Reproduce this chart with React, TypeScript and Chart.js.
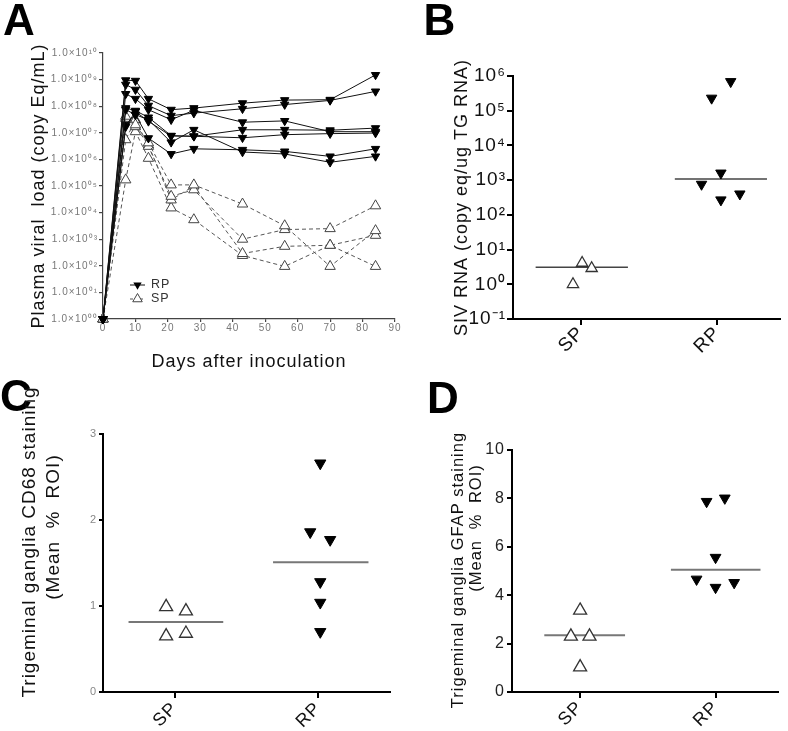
import React, { useEffect, useRef } from 'react';
import { Chart, registerables } from 'chart.js';

Chart.register(...registerables);

const FONT = "'Liberation Sans', Arial, Helvetica, sans-serif";

// ---------- Panel A : plasma viral load ----------
const DAYS = [0, 7, 10, 14, 21, 28, 43, 56, 70, 84];
const RP_ANIMAL_1 = [1, 9.5e8, 9.1e8, 1.9e8, 7.4e7, 8.5e7, 1.3e8, 1.7e8, 1.75e8, 1.5e9];
const RP_ANIMAL_2 = [1, 6.5e8, 4.2e8, 1.05e8, 4.4e7, 5.5e7, 8.0e7, 1.15e8, 1.65e8, 3.6e8];
const RP_ANIMAL_3 = [1, 2.9e8, 1.9e8, 7.4e7, 3.1e7, 7.0e7, 2.5e7, 2.8e7, 1.1e7, 1.1e7];
const RP_ANIMAL_4 = [1, 8.5e7, 6.8e7, 3.8e7, 7.8e6, 7.4e6, 1.3e7, 1.3e7, 1.25e7, 1.5e7];
const RP_ANIMAL_5 = [1, 7.4e7, 4.8e7, 3.1e7, 4.4e6, 1.3e7, 1.9e6, 1.6e6, 7.8e5, 1.3e6];
const RP_ANIMAL_6 = [1, 1.7e7, 6.3e7, 2.7e7, 7.6e6, 7.4e6, 6.5e6, 8.5e6, 9.3e6, 9.8e6];
const RP_ANIMAL_7 = [1, 2.0e7, 4.8e7, 6.3e6, 1.6e6, 2.5e6, 2.3e6, 2.0e6, 1.3e6, 2.5e6];
const SP_ANIMAL_1 = [1, 4.2e7, 2.0e7, 4.2e6, 1.1e5, 1.1e5, 2.1e4, 3.2e3, 95, 2.1e3];
const SP_ANIMAL_2 = [1, 5.5e6, 3.1e7, 3.1e6, 4.1e4, 7.2e4, 1.0e3, 2.3e3, 2.5e3, 1.8e4];
const SP_ANIMAL_3 = [1, 3.5e7, 1.7e7, 3.5e6, 3.0e4, 1.0e5, 290, 540, 590, 95];
const SP_ANIMAL_4 = [1, 1.7e5, 1.1e7, 1.1e6, 1.5e4, 5.4e3, 245, 95, 590, 1.4e3];
const RP_ANIMALS = [RP_ANIMAL_1, RP_ANIMAL_2, RP_ANIMAL_3, RP_ANIMAL_4, RP_ANIMAL_5, RP_ANIMAL_6, RP_ANIMAL_7];
const SP_ANIMALS = [SP_ANIMAL_1, SP_ANIMAL_2, SP_ANIMAL_3, SP_ANIMAL_4];
const A_Y_TICKS = [1, 1e1, 1e2, 1e3, 1e4, 1e5, 1e6, 1e7, 1e8, 1e9, 1e10];
const A_Y_LABELS = ['1.0×10⁰⁰', '1.0×10⁰¹', '1.0×10⁰²', '1.0×10⁰³', '1.0×10⁰⁴', '1.0×10⁰⁵', '1.0×10⁰⁶', '1.0×10⁰⁷', '1.0×10⁰⁸', '1.0×10⁰⁹', '1.0×10¹⁰'];
const A_LEGEND = ['RP', 'SP'];

// ---------- shared group labels ----------
const GROUPS = ['SP', 'RP'];
const GROUP_POS = [0.5, 1.5];

// ---------- Panel B : SIV RNA in TG ----------
const B_SP_VALUES = [1.0, 4.1, 2.9];
const B_SP_X = [0.44, 0.507, 0.577];
const B_RP_VALUES = [760, 1600, 270, 400, 2.3e5, 6.9e5];
const B_RP_X = [1.383, 1.525, 1.525, 1.664, 1.457, 1.597];
const B_MEDIANS = [3.1, 1080];
const B_MEDIAN_SPANS = [[0.166, 0.843], [1.187, 1.863]];
const B_Y_TICKS = [0.1, 1, 10, 100, 1e3, 1e4, 1e5, 1e6];
const B_Y_LABELS = ['10⁻¹', '10⁰', '10¹', '10²', '10³', '10⁴', '10⁵', '10⁶'];

// ---------- Panel C : CD68 ----------
const C_SP_VALUES = [0.99, 0.94, 0.65, 0.68];
const C_SP_X = [0.44, 0.578, 0.44, 0.578];
const C_RP_VALUES = [2.66, 1.86, 1.77, 1.28, 1.04, 0.70];
const C_RP_X = [1.514, 1.444, 1.583, 1.514, 1.514, 1.514];
const C_MEDIANS = [0.815, 1.51];
const C_MEDIAN_SPANS = [[0.178, 0.838], [1.185, 1.85]];
const C_Y_TICKS = [0, 1, 2, 3];

// ---------- Panel D : GFAP ----------
const D_SP_VALUES = [3.37, 2.3, 2.3, 1.03];
const D_SP_X = [0.502, 0.434, 0.571, 0.502];
const D_RP_VALUES = [7.87, 8.01, 5.56, 4.66, 4.32, 4.52];
const D_RP_X = [1.434, 1.568, 1.5, 1.36, 1.5, 1.637];
const D_MEDIANS = [2.34, 5.05];
const D_MEDIAN_SPANS = [[0.238, 0.833], [1.171, 1.831]];
const D_Y_TICKS = [0, 2, 4, 6, 8, 10];

// ---------- helpers ----------
const fixW = (w: number) => (s: any) => { s.width = w; };
const fixH = (h: number) => (s: any) => { s.height = h; };
const fixedTicks = (vals: number[]) => (s: any) => { s.ticks = vals.map((v) => ({ value: v })); };

function axisLook(color: string, width: number, tickLen: number) {
  return {
    grid: { display: true, drawOnChartArea: false, drawTicks: true, tickLength: tickLen, color, lineWidth: width },
    border: { display: true, color, width },
  };
}

function triPath(ctx: CanvasRenderingContext2D, x: number, y: number, r: number, down: boolean) {
  const s = down ? -1 : 1;
  ctx.beginPath();
  ctx.moveTo(x, y - s * r);
  ctx.lineTo(x + 0.866 * r, y + s * 0.5 * r);
  ctx.lineTo(x - 0.866 * r, y + s * 0.5 * r);
  ctx.closePath();
}

function drawRotated(ctx: any, t: any) {
  ctx.save();
  ctx.translate(t.x, t.y);
  ctx.rotate(-Math.PI / 2);
  ctx.font = `${t.size}px ${FONT}`;
  ctx.fillStyle = '#111';
  ctx.textAlign = 'center';
  ctx.textBaseline = 'middle';
  ctx.wordSpacing = t.wordSpacing || '0px';
  ctx.fillText(t.text, 0, 0);
  ctx.restore();
}

function decor(opt: any) {
  return {
    id: 'decor' + opt.letter,
    beforeDraw(chart: any) {
      chart.ctx.letterSpacing = opt.spacing || '1px';
    },
    afterDraw(chart: any) {
      const ctx = chart.ctx;
      ctx.save();
      ctx.font = `bold 44px ${FONT}`;
      ctx.fillStyle = '#000';
      ctx.textAlign = 'left';
      ctx.textBaseline = 'alphabetic';
      ctx.letterSpacing = '0px';
      ctx.fillText(opt.letter, opt.lx, opt.ly);
      ctx.letterSpacing = opt.spacing || '1px';
      (opt.titles || []).forEach((t: any) => drawRotated(ctx, t));
      if (opt.legend) opt.legend(chart);
      ctx.restore();
      ctx.letterSpacing = '0px';
    },
  };
}

function legendA(chart: any) {
  const ctx = chart.ctx;
  const { left, bottom } = chart.chartArea;
  const x0 = left + 27;
  const rows = [bottom - 34, bottom - 20];
  ctx.save();
  // RP
  ctx.strokeStyle = '#111';
  ctx.lineWidth = 1;
  ctx.beginPath();
  ctx.moveTo(x0, rows[0]);
  ctx.lineTo(x0 + 15, rows[0]);
  ctx.stroke();
  triPath(ctx, x0 + 7.5, rows[0], 4.8, true);
  ctx.fillStyle = '#000';
  ctx.fill();
  // SP
  ctx.strokeStyle = '#555';
  ctx.setLineDash([3, 2]);
  ctx.beginPath();
  ctx.moveTo(x0, rows[1]);
  ctx.lineTo(x0 + 15, rows[1]);
  ctx.stroke();
  ctx.setLineDash([]);
  triPath(ctx, x0 + 7.5, rows[1], 5.5, false);
  ctx.fillStyle = '#fff';
  ctx.fill();
  ctx.strokeStyle = '#444';
  ctx.lineWidth = 1;
  ctx.stroke();
  ctx.font = `12.5px ${FONT}`;
  ctx.fillStyle = '#333';
  ctx.textAlign = 'left';
  ctx.textBaseline = 'middle';
  ctx.fillText(A_LEGEND[0], x0 + 21, rows[0]);
  ctx.fillText(A_LEGEND[1], x0 + 21, rows[1]);
  ctx.restore();
}

function groupSets(spX: number[], spY: number[], rpX: number[], rpY: number[], medians: number[], spans: number[][], st: any) {
  return [
    {
      data: rpX.map((x, i) => ({ x, y: rpY[i] })),
      showLine: false, clip: false,
      pointStyle: 'triangle', pointRotation: 180, pointRadius: st.rpR,
      pointBackgroundColor: '#000', pointBorderColor: '#000', pointBorderWidth: 1,
    },
    {
      data: spX.map((x, i) => ({ x, y: spY[i] })),
      showLine: false, clip: false,
      pointStyle: 'triangle', pointRotation: 0, pointRadius: st.spR,
      pointBackgroundColor: '#fff', pointBorderColor: '#333', pointBorderWidth: 1.3,
    },
    ...medians.map((m, g) => ({
      data: [{ x: spans[g][0], y: m }, { x: spans[g][1], y: m }],
      showLine: true, pointRadius: 0, borderColor: st.med, borderWidth: st.medW, clip: false,
    })),
  ];
}

function groupX(minMax: number[], h: number, size: number, pad: number) {
  return {
    type: 'linear', min: minMax[0], max: minMax[1],
    afterFit: fixH(h),
    afterBuildTicks: fixedTicks(GROUP_POS),
    ticks: {
      callback: (_v: any, i: number) => GROUPS[i],
      autoSkip: false, minRotation: 45, maxRotation: 45, padding: pad,
      color: '#111', font: { family: FONT, size },
    },
    ...axisLook('#000', 2, 6),
  };
}

const BASE = {
  responsive: false,
  animation: false,
  events: [],
  plugins: { legend: { display: false }, tooltip: { enabled: false } },
};

function configA(): any {
  const rpSets = RP_ANIMALS.map((s) => ({
    data: DAYS.map((d, i) => ({ x: d, y: s[i] })),
    showLine: true, clip: false, borderColor: '#111', borderWidth: 1,
    pointStyle: 'triangle', pointRotation: 180, pointRadius: 4.8,
    pointBackgroundColor: '#000', pointBorderColor: '#000', pointBorderWidth: 1,
  }));
  const spSets = SP_ANIMALS.map((s) => ({
    data: DAYS.map((d, i) => ({ x: d, y: s[i] })),
    showLine: true, clip: false, borderColor: '#555', borderWidth: 1, borderDash: [4, 3],
    pointStyle: 'triangle', pointRotation: 0, pointRadius: 6,
    pointBackgroundColor: '#fff', pointBorderColor: '#444', pointBorderWidth: 1,
  }));
  return {
    type: 'scatter',
    data: { datasets: [...rpSets, ...spSets] },
    options: {
      ...BASE,
      layout: { padding: { left: 28, top: 53, right: 393, bottom: 358 } },
      scales: {
        x: {
          type: 'linear', min: 0, max: 90,
          afterFit: fixH(54),
          ticks: { stepSize: 10, color: '#777', font: { family: FONT, size: 10 }, padding: 0, maxRotation: 0 },
          ...axisLook('#444', 1.2, 3),
          title: { display: true, text: 'Days after inoculation', color: '#111', font: { family: FONT, size: 18 }, padding: 0 },
        },
        y: {
          type: 'logarithmic', min: 1, max: 1e10,
          afterFit: fixW(75),
          afterBuildTicks: fixedTicks(A_Y_TICKS),
          ticks: { callback: (_v: any, i: number) => A_Y_LABELS[i], autoSkip: false, color: '#777', font: { family: FONT, size: 10 }, padding: 1 },
          ...axisLook('#444', 1.2, 4),
          title: { display: true, text: 'Plasma viral  load (copy Eq/mL)', color: '#111', font: { family: FONT, size: 18 }, padding: 0 },
        },
      },
    },
    plugins: [decor({ letter: 'A', lx: 3, ly: 35, legend: legendA })],
  };
}

function configB(): any {
  return {
    type: 'scatter',
    data: { datasets: groupSets(B_SP_X, B_SP_VALUES, B_RP_X, B_RP_VALUES, B_MEDIANS, B_MEDIAN_SPANS, { rpR: 6, spR: 6.5, med: '#444', medW: 1.3 }) },
    options: {
      ...BASE,
      layout: { padding: { left: 451.2, top: 76, right: 7, bottom: 362 } },
      scales: {
        x: groupX([0, 1.96], 50, 19, -3),
        y: {
          type: 'logarithmic', min: 0.1, max: 1e6,
          afterFit: fixW(61.8),
          afterBuildTicks: fixedTicks(B_Y_TICKS),
          ticks: { callback: (_v: any, i: number) => B_Y_LABELS[i], autoSkip: false, color: '#111', font: { family: FONT, size: 19 }, padding: 1 },
          ...axisLook('#000', 2, 6),
          title: { display: true, text: 'SIV RNA (copy eq/ug TG RNA)', color: '#111', font: { family: FONT, size: 18 }, padding: 0 },
        },
      },
    },
    plugins: [decor({ letter: 'B', lx: 423.5, ly: 35 })],
  };
}

function configC(): any {
  return {
    type: 'scatter',
    data: { datasets: groupSets(C_SP_X, C_SP_VALUES, C_RP_X, C_RP_VALUES, C_MEDIANS, C_MEDIAN_SPANS, { rpR: 6.5, spR: 7.5, med: '#777', medW: 2 }) },
    options: {
      ...BASE,
      layout: { padding: { left: 60, top: 434, right: 398, bottom: 0 } },
      scales: {
        x: groupX([0, 2], 39, 18, 0),
        y: {
          type: 'linear', min: 0, max: 3,
          afterFit: fixW(43),
          afterBuildTicks: fixedTicks(C_Y_TICKS),
          ticks: { autoSkip: false, color: '#888', font: { family: FONT, size: 11 }, padding: 2 },
          ...axisLook('#000', 2, 4),
        },
      },
    },
    plugins: [decor({
      letter: 'C', lx: 0, ly: 411,
      titles: [
        { text: 'Trigeminal ganglia CD68 staining', x: 30, y: 542, size: 19 },
        { text: '(Mean % ROI)', x: 53.5, y: 527, size: 19, wordSpacing: '6px' },
      ],
    })],
  };
}

function configD(): any {
  return {
    type: 'scatter',
    data: { datasets: groupSets(D_SP_X, D_SP_VALUES, D_RP_X, D_RP_VALUES, D_MEDIANS, D_MEDIAN_SPANS, { rpR: 6.2, spR: 7.5, med: '#777', medW: 2 }) },
    options: {
      ...BASE,
      layout: { padding: { left: 449.5, top: 450, right: 10, bottom: 0 } },
      scales: {
        x: groupX([0, 1.96], 39, 18, -1),
        y: {
          type: 'linear', min: 0, max: 10,
          afterFit: fixW(62.5),
          afterBuildTicks: fixedTicks(D_Y_TICKS),
          ticks: { autoSkip: false, color: '#222', font: { family: FONT, size: 16 }, padding: 2 },
          ...axisLook('#000', 2, 5),
        },
      },
    },
    plugins: [decor({
      letter: 'D', lx: 427, ly: 413,
      titles: [
        { text: 'Trigeminal ganglia GFAP staining', x: 458.3, y: 570, size: 16.5 },
        { text: '(Mean % ROI)', x: 476, y: 528, size: 16.5, wordSpacing: '5px' },
      ],
    })],
  };
}

function Panel({ make }: { make: () => any }) {
  const ref = useRef<HTMLCanvasElement | null>(null);
  useEffect(() => {
    const chart = new Chart(ref.current as HTMLCanvasElement, make());
    return () => chart.destroy();
  }, [make]);
  return (
    <canvas
      ref={ref}
      width={788}
      height={731}
      style={{ position: 'absolute', left: 0, top: 0, width: 788, height: 731 }}
    />
  );
}

export default function App() {
  return (
    <div style={{ position: 'absolute', left: 0, top: 0, width: 788, height: 731, background: '#fff', overflow: 'hidden' }}>
      <Panel make={configA} />
      <Panel make={configB} />
      <Panel make={configC} />
      <Panel make={configD} />
    </div>
  );
}
